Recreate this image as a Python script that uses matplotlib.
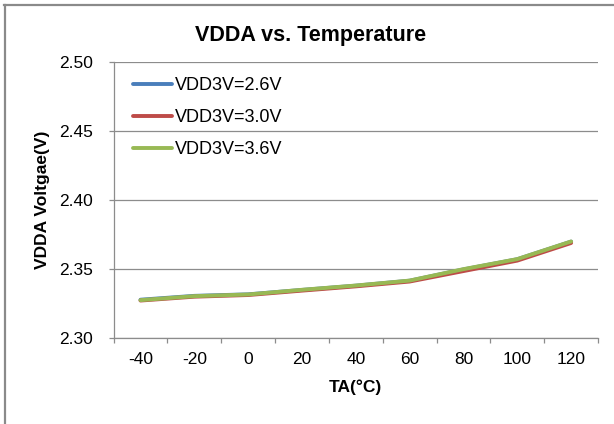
import numpy as np
import matplotlib
matplotlib.use("Agg")
import matplotlib.pyplot as plt
from matplotlib.lines import Line2D

plt.rcParams['font.family'] = ['Liberation Sans', 'DejaVu Sans']

# data
temps = ["-40", "-20", "0", "20", "40", "60", "80", "100", "120"]
v_26 = [2.3276, 2.3304, 2.3315, 2.3347, 2.3378, 2.3414, 2.3496, 2.3570, 2.3698]
v_30 = [2.3270, 2.3298, 2.3310, 2.3342, 2.3373, 2.3408, 2.3484, 2.3560, 2.3688]
v_36 = [2.3273, 2.3302, 2.3314, 2.3348, 2.3379, 2.3415, 2.3498, 2.3571, 2.3699]
labels = ["VDD3V=2.6V", "VDD3V=3.0V", "VDD3V=3.6V"]
colors = ["#4A7EBB", "#BE4B48", "#98B954"]

fig = plt.figure(figsize=(6.14, 4.24), dpi=100)
ax = fig.add_axes([0.185, 0.2035, 0.789, 0.6495])

x = np.arange(len(temps))
for vals, lab, col in zip([v_26, v_30, v_36], labels, colors):
    ax.plot(x, vals, color=col, lw=2.8, label=lab, solid_capstyle='round')

grey = "#8c8c8c"
ax.set_ylim(2.30, 2.50)
ax.set_yticks(np.arange(2.30, 2.501, 0.05))
ax.yaxis.set_major_formatter(matplotlib.ticker.FormatStrFormatter('%.2f'))
ax.grid(axis='y', color=grey, lw=0.9)
ax.set_axisbelow(True)

ax.set_xlim(-0.5, len(temps) - 0.5)
ax.set_xticks(np.arange(-0.5, len(temps), 1.0))
ax.set_xticklabels([])
ax.set_xticks(x, minor=True)
ax.set_xticklabels(temps, minor=True)
ax.tick_params(axis='x', which='major', length=3.6, color=grey, width=0.9)
ax.tick_params(axis='x', which='minor', length=0, pad=10.5, labelsize=12.5)
ax.tick_params(axis='y', length=3.6, color=grey, width=0.9, pad=11.5, labelsize=12.5)

for s in ['top', 'right']:
    ax.spines[s].set_visible(False)
for s in ['left', 'bottom']:
    ax.spines[s].set_color(grey)
    ax.spines[s].set_linewidth(0.9)

ax.set_xlabel("TA(°C)", fontsize=12.5, fontweight='bold')
ax.xaxis.set_label_coords(0.5, -0.15)
ax.set_ylabel("VDDA Voltgae(V)", fontsize=12.5, fontweight='bold')
ax.yaxis.set_label_coords(-0.131, 0.5)

fig.text(0.506, 0.917, "VDDA vs. Temperature", fontsize=15.5, fontweight='bold',
         ha='center', va='center')

ax.legend(loc='upper left', bbox_to_anchor=(0.04, 0.945), frameon=False,
          fontsize=13, handlelength=2.15, handletextpad=0.2, labelspacing=0.82,
          borderpad=0, borderaxespad=0)

# outer chart border (only top and left edges show)
fig.add_artist(Line2D([4 / 614, 1], [1 - 4.5 / 424] * 2, color="#8a8a8a", lw=1.6))
fig.add_artist(Line2D([4.5 / 614] * 2, [0, 1 - 4.5 / 424], color="#8a8a8a", lw=1.6))

fig.savefig("out.png", dpi=100)
